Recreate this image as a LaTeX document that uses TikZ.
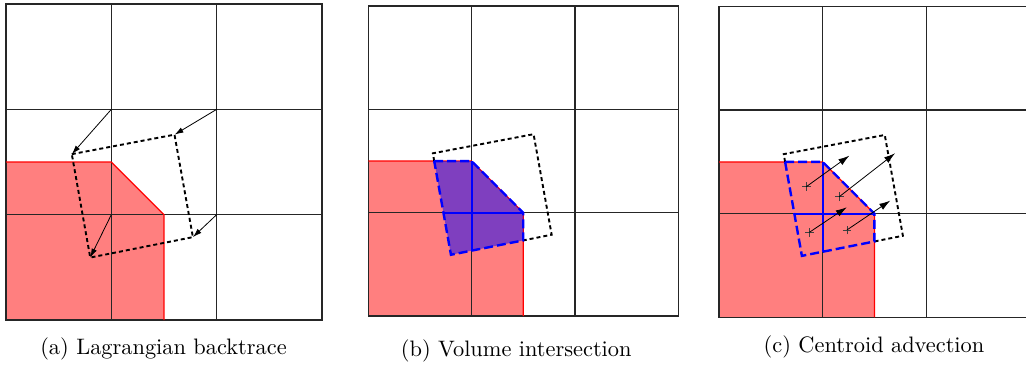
\documentclass[tikz,border=0pt]{standalone}
\usetikzlibrary{arrows.meta,shapes.misc}
\tikzset{
 gridline/.style={draw=black!85, line width=1.4pt, line cap=rect},
 redfill/.style={fill=red, fill opacity=0.5, draw=none},
 rededge/.style={draw=red, line width=1.3pt},
 purplefill/.style={fill=blue, fill opacity=0.5, draw=none},
 quadline/.style={draw=black, line width=1.9pt, dash pattern=on 4pt off 3pt},
 bluedash/.style={draw=blue, line width=2.4pt, dash pattern=on 9pt off 4pt},
 bluesolid/.style={draw=blue, line width=2pt},
 btarrow/.style={draw=black, line width=0.8pt, -{Latex[length=9pt,width=5.5pt]}},
 advarrow/.style={draw=black, line width=0.8pt, -{Latex[length=11pt,width=7pt]}},
 startmark/.style={cross out, draw=black!75, line width=0.6pt, minimum size=5.5pt, inner sep=0pt, rotate=45},
 caption/.style={scale=2.236, anchor=base, inner sep=0pt},
}
\newcommand{\panelbase}[1]{%
  \coordinate (#1A) at (0.625,1.575);
  \coordinate (#1B) at (1.600,1.760);
  \coordinate (#1C) at (1.775,0.787);
  \coordinate (#1D) at (0.800,0.593);
  \coordinate (#1P) at (0.638,1.5);
  \coordinate (#1Q) at (1,1.5);
  \coordinate (#1R) at (1.5,1);
  \coordinate (#1S) at (1.5,0.732);
  \path[redfill] (0,0) -- (1.5,0) -- (1.5,1) -- (1,1.5) -- (0,1.5) -- cycle;
  \foreach \i in {0,...,3} {
    \draw[gridline] (\i,0) -- (\i,3);
    \draw[gridline] (0,\i) -- (3,\i);
  }
  \draw[rededge] (0,1.5) -- (1,1.5) -- (1.5,1) -- (1.5,0);
}
\begin{document}
\begin{tikzpicture}[x=1pt,y=1pt]
\useasboundingbox (0,0) rectangle (1026,368);

% (a) Lagrangian backtrace
\begin{scope}[shift={(6,48)}, x=105.3pt, y=105.3pt]
  \panelbase{a}
  \coordinate (aN1) at (1,2);
  \coordinate (aN2) at (2,2);
  \coordinate (aN3) at (2,1);
  \coordinate (aN4) at (1,1);
  \draw[quadline] (aA) -- (aB) -- (aC) -- (aD) -- cycle;
  \draw[btarrow] (aN1) -- (aA);
  \draw[btarrow] (aN2) -- (aB);
  \draw[btarrow] (aN3) -- (aC);
  \draw[btarrow] (aN4) -- (aD);
\end{scope}
\node[caption] (capa) at (163.5,13.6) {(a) Lagrangian backtrace};

% (b) Volume intersection
\begin{scope}[shift={(368.3,52)}, x=103.3pt, y=103.3pt]
  \panelbase{b}
  \path[purplefill] (bP) -- (bQ) -- (bR) -- (bS) -- (bD) -- cycle;
  \draw[bluesolid] (1,0.633) -- (1,1.5);
  \draw[bluesolid] (0.727,1) -- (1.5,1);
  \draw[quadline] (bP) -- (bA) -- (bB) -- (bC) -- (bS);
  \draw[bluedash] (bP) -- (bQ) -- (bR) -- (bS) -- (bD) -- cycle;
\end{scope}
\node[caption] (capb) at (516.2,12) {(b) Volume intersection};

% (c) Centroid advection
\begin{scope}[shift={(719,50.7)}, x=103.6pt, y=103.6pt]
  \panelbase{c}
  \draw[bluesolid] (1,0.633) -- (1,1.5);
  \draw[bluesolid] (0.727,1) -- (1.5,1);
  \draw[quadline] (cP) -- (cA) -- (cB) -- (cC) -- (cS);
  \draw[bluedash] (cP) -- (cQ) -- (cR) -- (cS) -- (cD) -- cycle;
  \node[startmark] (s1) at (0.843,1.261) {};
  \node[startmark] (s2) at (1.161,1.164) {};
  \node[startmark] (s3) at (0.872,0.820) {};
  \node[startmark] (s4) at (1.235,0.843) {};
  \coordinate (e1) at (1.258,1.560);
  \coordinate (e2) at (1.699,1.583);
  \coordinate (e3) at (1.233,1.062);
  \coordinate (e4) at (1.653,1.126);
  \draw[advarrow] (s1.center) -- (e1);
  \draw[advarrow] (s2.center) -- (e2);
  \draw[advarrow] (s3.center) -- (e3);
  \draw[advarrow] (s4.center) -- (e4);
\end{scope}
\node[caption] (capc) at (874,15.3) {(c) Centroid advection};
\end{tikzpicture}
\end{document}
